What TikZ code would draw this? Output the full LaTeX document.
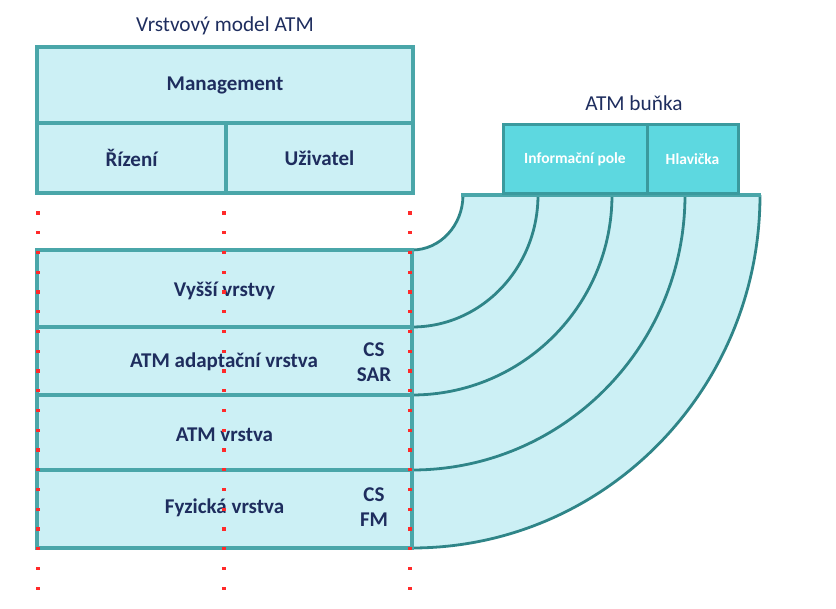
\documentclass[tikz,border=0pt]{standalone}
\usepackage{fontspec}
\setmainfont{Carlito}
\definecolor{fillc}{HTML}{CCF0F5}
\definecolor{edge}{HTML}{4AA6A9}
\definecolor{edgedark}{HTML}{2F8588}
\definecolor{cellc}{HTML}{5DD8E0}
\definecolor{celledge}{HTML}{3A9A9E}
\definecolor{navy}{HTML}{1E2D5E}
\definecolor{dotred}{HTML}{FF2A2A}
\begin{document}
\begin{tikzpicture}[x=1pt,y=-1pt,
  layerbox/.style={draw=edge, fill=fillc, line width=4pt, inner sep=0pt,
    font=\bfseries\fontsize{21}{23}\selectfont, text=navy},
  cellbox/.style={draw=celledge, fill=cellc, line width=3pt, inner sep=0pt,
    font=\bfseries\fontsize{15.5}{17}\selectfont, text=white},
  titletext/.style={font=\fontsize{21.3}{24}\selectfont, text=navy},
  sidetext/.style={font=\bfseries\fontsize{21}{25}\selectfont, text=navy, align=center},
  arcline/.style={draw=edgedark, line width=2.8pt},
  reddot/.style={fill=dotred}]
\useasboundingbox (0,0) rectangle (836,609);

% titles
\node[titletext] (t1) at (225,26) {Vrstvový model ATM};
\node[titletext] (t2) at (634,103) {ATM buňka};

% ring
\fill[fillc] (463,195) -- (760,195)
  arc[start angle=0,end angle=-90,x radius=348pt,y radius=353pt]
  -- (412,250)
  arc[start angle=-90,end angle=0,x radius=51pt,y radius=55pt] -- cycle;
\draw[arcline] (463,195) arc[start angle=0,end angle=-90,x radius=51pt,y radius=55pt];
\draw[arcline] (538,195) arc[start angle=0,end angle=-90,x radius=126pt,y radius=132pt];
\draw[arcline] (612,195) arc[start angle=0,end angle=-90,x radius=200pt,y radius=200pt];
\draw[arcline] (685,195) arc[start angle=0,end angle=-90,x radius=273pt,y radius=275pt];
\draw[arcline] (760,195) arc[start angle=0,end angle=-90,x radius=348pt,y radius=353pt];
\draw[draw=edge, line width=4pt] (461,195) -- (761.4,195);

% ATM cell
\node[cellbox, minimum width=144pt, minimum height=69pt] (info) at (575,159.5) {Informační pole};
\node[cellbox, minimum width=91pt, minimum height=69pt] (hlav) at (692.5,159.5) {Hlavička};

% upper stack
\node[layerbox, minimum width=376pt, minimum height=76pt] (mgmt) at (225,85) {Management};
\node[layerbox, minimum width=189pt, minimum height=70pt] (riz) at (131.5,158) {Řízení};
\node[layerbox, minimum width=187pt, minimum height=70pt] (uziv) at (319.5,158) {Uživatel};

% lower stack
\node[layerbox, minimum width=375pt, minimum height=77pt] (vyssi) at (224.5,288.5) {};
\node[layerbox, minimum width=375pt, minimum height=68pt] (aal) at (224.5,361) {};
\node[layerbox, minimum width=375pt, minimum height=75pt] (atm) at (224.5,432.5) {};
\node[layerbox, minimum width=375pt, minimum height=78pt] (fyz) at (224.5,509) {};
\node[layerbox, draw=none, fill=none] (vyssiT) at (224.5,291) {Vyšší vrstvy};
\node[layerbox, draw=none, fill=none] (aalT) at (224,362) {ATM adaptační vrstva};
\node[layerbox, draw=none, fill=none] (atmT) at (224.5,435) {ATM vrstva};
\node[layerbox, draw=none, fill=none] (fyzT) at (224.5,508) {Fyzická vrstva};
\node[sidetext] (cs1) at (374,362) {CS\\SAR};
\node[sidetext] (cs2) at (374,507) {CS\\FM};

% red dotted guide lines
\foreach \k in {0,...,19} {
  \pgfmathsetmacro\yy{213+19.75*\k}
  \foreach \xx in {38,224,410} {
    \fill[reddot] (\xx-1.6,\yy-1.6) rectangle ++(3.2,3.2);
  }
}
\end{tikzpicture}
\end{document}
